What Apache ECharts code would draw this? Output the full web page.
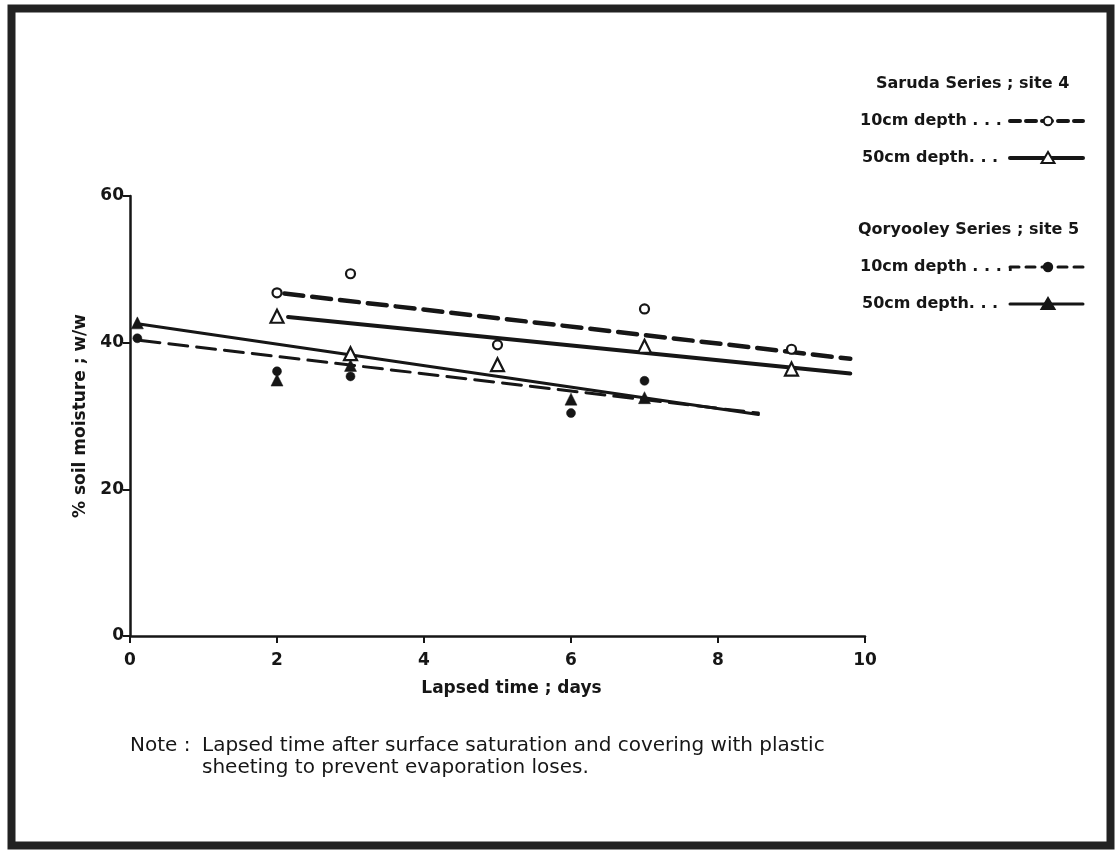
<!DOCTYPE html>
<html>
<head>
<meta charset="utf-8">
<title>Soil moisture decline after saturation</title>
<script src="https://cdn.jsdelivr.net/npm/echarts@6/dist/echarts.min.js"></script>
<style>
  html, body { margin: 0; padding: 0; background: #fff; }
  #chart { width: 1115px; height: 850px; }
</style>
</head>
<body>
<div id="chart"></div>
<script>
// Observation days for each soil series
const sarudaDays = [2, 3, 5, 7, 9];
const qoryooleyDays = [0.1, 2, 3, 6, 7];

// % soil moisture (w/w) observed at each depth
const saruda10cm = [46.8, 49.4, 39.7, 44.6, 39.1];
const saruda50cm = [43.6, 38.5, 37.0, 39.5, 36.4];
const qoryooley10cm = [40.6, 36.1, 35.4, 30.4, 34.8];
const qoryooley50cm = [42.7, 34.9, 36.9, 32.3, 32.5];

// Fitted trend lines: [start day, start value, end day, end value]
const sarudaFit10cm = [2.1, 46.7, 9.8, 37.8];
const sarudaFit50cm = [2.15, 43.5, 9.8, 35.8];
const qoryooleyFit10cm = [0.15, 40.3, 8.55, 30.4];
const qoryooleyFit50cm = [0.15, 42.5, 8.55, 30.2];

// Axis ticks
const xTicks = { min: 0, max: 10, step: 2 };
const yTicks = { min: 0, max: 60, step: 20 };

// Text
const xTitle = 'Lapsed time ; days';
const yTitle = '% soil moisture ; w/w';
const legendGroups = [
  { title: 'Saruda Series ; site 4', rows: ['10cm depth . . .', '50cm depth. . .'] },
  { title: 'Qoryooley Series ; site 5', rows: ['10cm depth . . . .', '50cm depth. . .'] }
];
const noteLabel = 'Note :';
const noteText = ['Lapsed time after surface saturation and covering with plastic',
                  'sheeting to prevent evaporation loses.'];

const INK = '#161616';
const FONT = '"DejaVu Sans", "Liberation Sans", sans-serif';

const pairs = (xs, ys) => xs.map((x, i) => [x, ys[i]]);
const fitLine = f => [[f[0], f[1]], [f[2], f[3]]];

const chart = echarts.init(document.getElementById('chart'), null, { renderer: 'canvas' });

function lineSeries(name, fit, width, dash) {
  return {
    name, type: 'line', data: fitLine(fit), symbol: 'none', silent: true, z: 2,
    lineStyle: { color: INK, width, type: dash || 'solid', cap: 'round' }
  };
}
function pointSeries(name, xs, ys, symbol, size, open) {
  return {
    name, type: 'scatter', data: pairs(xs, ys), symbol, symbolSize: size, z: 4,
    itemStyle: open
      ? { color: '#fff', borderColor: INK, borderWidth: 2.2, opacity: 1 }
      : { color: INK, borderColor: INK, borderWidth: 0.5, opacity: 1 }
  };
}

// Legend swatches and headings on the right
const legendX = 860, swatchX0 = 1010, swatchX1 = 1083, swatchMid = 1048;
const rowY = { head0: 84, s10: 121, s50: 158, head1: 230, q10: 267, q50: 304 };
const txt = (text, x, y, size, weight) => ({
  type: 'text', x, y, silent: true,
  style: { text, fill: INK, font: `${weight} ${size}px ${FONT}`, verticalAlign: 'middle' }
});
const swLine = (y, width, dash) => ({
  type: 'line', silent: true,
  shape: { x1: swatchX0, y1: y, x2: swatchX1, y2: y },
  style: { stroke: INK, lineWidth: width, lineDash: dash || null, lineCap: 'round' }
});
const swTri = (y, filled) => ({
  type: 'polygon', silent: true,
  shape: { points: [[swatchMid, y - 6], [swatchMid - 6.5, y + 5], [swatchMid + 6.5, y + 5]] },
  style: { fill: filled ? INK : '#fff', stroke: INK, lineWidth: 2 }
});
const swDot = (y, filled) => ({
  type: 'circle', silent: true,
  shape: { cx: swatchMid, cy: y, r: 4.2 },
  style: { fill: filled ? INK : '#fff', stroke: INK, lineWidth: 2 }
});

const graphics = [
  // frame round the whole figure
  { type: 'rect', silent: true, shape: { x: 11.5, y: 8.5, width: 1099, height: 837 },
    style: { fill: null, stroke: '#222', lineWidth: 8 } },

  txt(legendGroups[0].title, 876, rowY.head0, 16, 'bold'),
  txt(legendGroups[0].rows[0], legendX, rowY.s10, 16, 'bold'),
  swLine(rowY.s10, 4, [10, 6]), swDot(rowY.s10, false),
  txt(legendGroups[0].rows[1], legendX + 2, rowY.s50, 16, 'bold'),
  swLine(rowY.s50, 4), swTri(rowY.s50, false),

  txt(legendGroups[1].title, 858, rowY.head1, 16, 'bold'),
  txt(legendGroups[1].rows[0], legendX, rowY.q10, 16, 'bold'),
  swLine(rowY.q10, 3, [9, 7]), swDot(rowY.q10, true),
  txt(legendGroups[1].rows[1], legendX + 2, rowY.q50, 16, 'bold'),
  swLine(rowY.q50, 3), swTri(rowY.q50, true),

  // explanatory note under the plot
  txt(noteLabel, 130, 746, 20, 'normal'),
  txt(noteText[0], 202, 746, 20, 'normal'),
  txt(noteText[1], 202, 768, 20, 'normal')
];

const axisCommon = {
  type: 'value',
  nameLocation: 'middle',
  nameTextStyle: { color: INK, fontFamily: FONT, fontWeight: 'bold', fontSize: 17 },
  axisLine: { show: true, onZero: false, lineStyle: { color: INK, width: 2.5 } },
  axisTick: { show: true, inside: false, length: 7, lineStyle: { color: INK, width: 2 } },
  axisLabel: { color: INK, fontFamily: FONT, fontWeight: 'bold', fontSize: 17 },
  splitLine: { show: false }
};

chart.setOption({
  backgroundColor: '#ffffff',
  animation: false,
  grid: { left: 130, right: 250, top: 196, bottom: 214 },
  xAxis: Object.assign({}, axisCommon, {
    min: xTicks.min, max: xTicks.max, interval: xTicks.step,
    name: xTitle, nameGap: 44,
    nameTextStyle: Object.assign({}, axisCommon.nameTextStyle, { padding: [0, 0, 0, 28] }),
    axisLabel: Object.assign({}, axisCommon.axisLabel, { margin: 16 })
  }),
  yAxis: Object.assign({}, axisCommon, {
    min: yTicks.min, max: yTicks.max, interval: yTicks.step,
    name: yTitle, nameGap: 36, nameRotate: 90,
    axisLabel: Object.assign({}, axisCommon.axisLabel, { margin: 6 })
  }),
  series: [
    lineSeries('Saruda 10cm fit', sarudaFit10cm, 4.5, [19, 9]),
    lineSeries('Saruda 50cm fit', sarudaFit50cm, 4, 'solid'),
    lineSeries('Qoryooley 10cm fit', qoryooleyFit10cm, 3, [19, 9]),
    lineSeries('Qoryooley 50cm fit', qoryooleyFit50cm, 3, 'solid'),
    pointSeries('Saruda 10cm', sarudaDays, saruda10cm, 'circle', 9, true),
    pointSeries('Saruda 50cm', sarudaDays, saruda50cm, 'triangle', 13, true),
    pointSeries('Qoryooley 10cm', qoryooleyDays, qoryooley10cm, 'circle', 9, false),
    pointSeries('Qoryooley 50cm', qoryooleyDays, qoryooley50cm, 'triangle', 12, false)
  ],
  graphic: graphics
});
</script>
</body>
</html>
